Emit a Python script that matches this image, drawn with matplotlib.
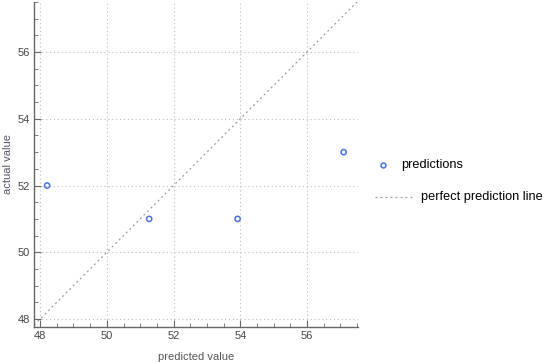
import matplotlib
matplotlib.use("Agg")
import matplotlib.pyplot as plt
from matplotlib.ticker import MultipleLocator
from matplotlib.lines import Line2D

plt.rcParams['font.family'] = ['Liberation Sans', 'DejaVu Sans']

predicted = [48.21, 51.27, 53.92, 57.1]
actual = [52, 51, 51, 53]
xlim = (47.82, 57.53)
ylim = (47.76, 57.5)
ticks = [48, 50, 52, 54, 56]
legend_labels = ["predictions", "perfect prediction line"]

W, H = 550, 364
fig = plt.figure(figsize=(5.5, 3.64), dpi=100)
ax = fig.add_axes([0.062, 0.1016, 0.589, 0.893])

blue = "#4a6fe3"
dash = (0, (1.5, 2.5))
ax.plot([xlim[0], xlim[1]], [xlim[0], xlim[1]], linestyle=dash, color="#999999", lw=0.9)
ax.scatter(predicted, actual, s=14, facecolors="none", edgecolors=blue, linewidths=1.1, zorder=3)

ax.set_xlim(*xlim)
ax.set_ylim(*ylim)
ax.set_xticks(ticks)
ax.set_yticks(ticks)
ax.xaxis.set_minor_locator(MultipleLocator(0.5))
ax.yaxis.set_minor_locator(MultipleLocator(0.5))
ax.grid(True, which="major", linestyle=(0, (1, 2.5)), color="#bbbbbb", lw=0.8)
for s in ["top", "right"]:
    ax.spines[s].set_visible(False)
for s in ["left", "bottom"]:
    ax.spines[s].set_color("#666666")
    ax.spines[s].set_linewidth(1.0)
ax.tick_params(which="major", direction="in", length=5, color="#666666", labelsize=8, labelcolor="#444444", pad=3)
ax.tick_params(which="minor", direction="in", length=3, color="#666666")
ax.set_xlabel("predicted value", fontsize=8, color="#555555", labelpad=8)
ax.set_ylabel("actual value", fontsize=8, color="#555566", labelpad=3)

# manual legend (figure pixel coordinates)
def fx(px):
    return px / W
def fy(py):
    return 1 - py / H

fig.add_artist(Line2D([fx(383)], [fy(165)], marker="o", linestyle="none", markersize=3.5,
                      markerfacecolor="none", markeredgecolor=blue, markeredgewidth=1.1,
                      transform=fig.transFigure))
fig.text(fx(401), fy(165), legend_labels[0], fontsize=9.2, va="center", ha="left", color="black")
fig.add_artist(Line2D([fx(375), fx(413)], [fy(197), fy(197)], linestyle=dash, color="#999999",
                      lw=0.9, transform=fig.transFigure))
fig.text(fx(421), fy(197), legend_labels[1], fontsize=9.2, va="center", ha="left", color="black")

fig.savefig("out.png", dpi=100)
